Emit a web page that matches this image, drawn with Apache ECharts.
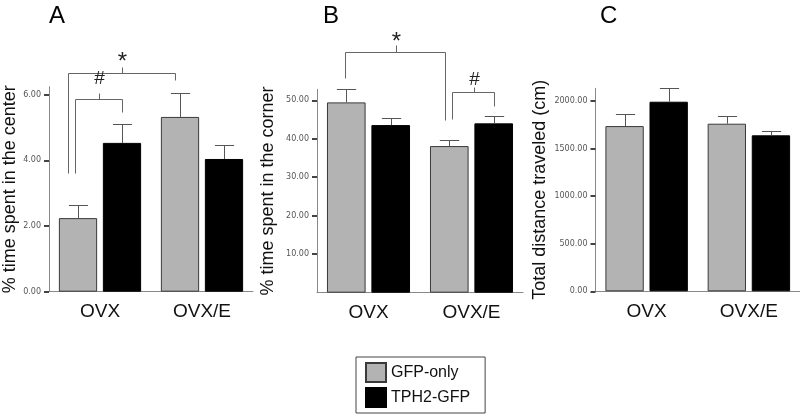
<!DOCTYPE html>
<html>
<head>
<meta charset="utf-8">
<script src="https://cdn.jsdelivr.net/npm/echarts@6/dist/echarts.min.js"></script>
<style>html,body{margin:0;padding:0;background:#fff}#c{width:800px;height:419px}</style>
</head>
<body>
<div id="c"></div>
<script>
// ---- data ----
const categories = ['OVX', 'OVX/E'];
const groupNames = ['GFP-only', 'TPH2-GFP'];

// Panel A: % time spent in the center
const centerGFP = [2.24, 5.32];
const centerGFPSem = [0.40, 0.72];
const centerTPH = [4.53, 4.04];
const centerTPHSem = [0.56, 0.43];
const centerTicks = [0, 2, 4, 6];

// Panel B: % time spent in the corner
const cornerGFP = [49.45, 38.1];
const cornerGFPSem = [3.35, 1.7];
const cornerTPH = [43.55, 44.0];
const cornerTPHSem = [1.95, 1.9];
const cornerTicks = [10, 20, 30, 40, 50];

// Panel C: total distance traveled (cm)
const distGFP = [1736, 1761];
const distGFPSem = [129, 77];
const distTPH = [1992, 1639];
const distTPHSem = [141, 45];
const distTicks = [0, 500, 1000, 1500, 2000];

// significance brackets: [catA, barA, nudgeA, legEndA, catB, barB, nudgeB, legEndB, level, tickTop, symbolValue]
const centerBrackets = [
  [0, 0, -0.25, 3.62, 1, 0, -0.14, 6.43, 6.67, 6.84, 7.13],
  [0, 0, -0.07, 3.62, 0, 1, 0.0, 5.47, 5.86, 6.06, 6.48]
];
const centerBracketSymbols = ['*', '#'];
const cornerBrackets = [
  [0, 0, -0.04, 55.7, 1, 0, -0.10, 45.0, 62.5, 64.4, 66.3],
  [1, 0, 0.075, 45.2, 1, 1, 0.0, 48.5, 52.1, 53.35, 55.25]
];
const cornerBracketSymbols = ['*', '#'];

// ---- layout / style ----
const BAR_W = 0.375, BAR_GAP = 0.15;
const FONT = 'Liberation Sans, Arial, sans-serif';

const panels = [
  {letter: 'A', title: '% time spent in the center', gfp: centerGFP, gfpSem: centerGFPSem, tph: centerTPH, tphSem: centerTPHSem,
   ticks: centerTicks, max: 6.24, grid: {left: 48, top: 86.7, width: 205, height: 205}, nameGap: 30, letterX: 49,
   brackets: centerBrackets, symbols: centerBracketSymbols},
  {letter: 'B', title: '% time spent in the corner', gfp: cornerGFP, gfpSem: cornerGFPSem, tph: cornerTPH, tphSem: cornerTPHSem,
   ticks: cornerTicks, max: 52.85, grid: {left: 317, top: 89.3, width: 206, height: 203.4}, nameGap: 39.5, letterX: 323,
   brackets: cornerBrackets, symbols: cornerBracketSymbols},
  {letter: 'C', title: 'Total distance traveled (cm)', gfp: distGFP, gfpSem: distGFPSem, tph: distTPH, tphSem: distTPHSem,
   ticks: distTicks, max: 2133, grid: {left: 595.5, top: 88.3, width: 206, height: 203}, nameGap: 46.5, letterX: 600,
   brackets: null, symbols: null}
];

function barCenter(api, cat, bi) {
  const c = api.coord([cat, 0])[0];
  const band = api.size([1, 0])[0];
  const bw = band * BAR_W;
  return {x: c + (bi === 0 ? -1 : 1) * bw * (1 + BAR_GAP) / 2, bw: bw};
}

function renderErr(params, api) {
  const cat = api.value(0), bi = api.value(1);
  const b = barCenter(api, cat, bi);
  const y0 = api.coord([cat, api.value(2)])[1];
  const y1 = api.coord([cat, api.value(3)])[1];
  const x = Math.round(b.x) + 0.5;
  const yc = Math.round(y1) + 0.5;
  const cap = b.bw * 0.25;
  return {type: 'group', children: [
    {type: 'line', shape: {x1: x, y1: y0, x2: x, y2: yc}, style: {stroke: '#555', lineWidth: 1}},
    {type: 'line', shape: {x1: x - cap, y1: yc, x2: x + cap, y2: yc}, style: {stroke: '#555', lineWidth: 1}}
  ]};
}

function makeBracketRenderer(symbols) {
  return function (params, api) {
    const a = barCenter(api, api.value(0), api.value(1));
    const b = barCenter(api, api.value(4), api.value(5));
    const xa = Math.round(a.x + api.value(2) * a.bw) + 0.5;
    const xb = Math.round(b.x + api.value(6) * b.bw) + 0.5;
    const Y = v => Math.round(api.coord([0, v])[1]) + 0.5;
    const ya = Y(api.value(3)), yb = Y(api.value(7)), yl = Y(api.value(8)), yt = Y(api.value(9));
    const ys = api.coord([0, api.value(10)])[1];
    const xm = Math.round((xa + xb) / 2) + 0.5;
    const sym = symbols[params.dataIndex];
    const isStar = sym === '*';
    return {type: 'group', children: [
      {type: 'polyline', shape: {points: [[xa, ya], [xa, yl], [xb, yl], [xb, yb]]}, style: {stroke: '#666', lineWidth: 1, fill: null}},
      {type: 'line', shape: {x1: xm, y1: yl, x2: xm, y2: yt}, style: {stroke: '#666', lineWidth: 1}},
      {type: 'text', x: xm, y: ys + (isStar ? 5 : 0), style: {text: sym, align: 'center', verticalAlign: 'middle',
        fontSize: isStar ? 24 : 19, fontFamily: FONT, fill: '#222'}}
    ]};
  };
}

const grids = [], xAxes = [], yAxes = [], series = [], titles = [];
panels.forEach((p, i) => {
  grids.push(Object.assign({containLabel: false}, p.grid));
  titles.push({text: p.letter, left: p.letterX, top: 4, padding: 0,
    textStyle: {fontSize: 24, fontWeight: 'normal', fontFamily: FONT, color: '#000'}});
  xAxes.push({type: 'category', gridIndex: i, data: categories,
    axisLine: {lineStyle: {color: '#888', width: 1}},
    axisTick: {alignWithLabel: true, length: 3, lineStyle: {color: '#666'}},
    axisLabel: {fontSize: 19, fontFamily: FONT, color: '#111', margin: 11},
    splitLine: {show: false}});
  yAxes.push({type: 'value', gridIndex: i, min: 0, max: p.max,
    name: p.title, nameLocation: 'middle', nameGap: p.nameGap,
    nameTextStyle: {fontSize: 18, fontFamily: FONT, color: '#111'},
    axisLine: {show: true, lineStyle: {color: '#888', width: 1}},
    axisTick: {show: true, length: 5, customValues: p.ticks, lineStyle: {color: '#444', width: 2}},
    axisLabel: {customValues: p.ticks, formatter: v => Number(v).toFixed(2), fontSize: 8,
      fontFamily: 'DejaVu Sans, sans-serif', color: '#555', margin: 8},
    splitLine: {show: false}});
  series.push({type: 'bar', name: groupNames[0], xAxisIndex: i, yAxisIndex: i, data: p.gfp,
    barWidth: (BAR_W * 100) + '%', barGap: (BAR_GAP * 100) + '%',
    itemStyle: {color: '#b3b3b3', borderColor: '#3a3a3a', borderWidth: 1}, silent: true});
  series.push({type: 'bar', name: groupNames[1], xAxisIndex: i, yAxisIndex: i, data: p.tph,
    barWidth: (BAR_W * 100) + '%', barGap: (BAR_GAP * 100) + '%',
    itemStyle: {color: '#000', borderColor: '#000', borderWidth: 1}, silent: true});
  const errData = [];
  categories.forEach((c, k) => {
    errData.push([k, 0, p.gfp[k], p.gfp[k] + p.gfpSem[k]]);
    errData.push([k, 1, p.tph[k], p.tph[k] + p.tphSem[k]]);
  });
  series.push({type: 'custom', xAxisIndex: i, yAxisIndex: i, data: errData, renderItem: renderErr,
    encode: {x: 0, y: [2, 3]}, silent: true, z: 3});
  if (p.brackets) {
    series.push({type: 'custom', xAxisIndex: i, yAxisIndex: i, data: p.brackets,
      renderItem: makeBracketRenderer(p.symbols), encode: {x: [0, 4], y: [8]}, clip: false, silent: true, z: 4});
  }
});

const chart = echarts.init(document.getElementById('c'), null, {renderer: 'canvas'});
chart.setOption({
  animation: false,
  backgroundColor: '#fff',
  title: titles,
  grid: grids,
  xAxis: xAxes,
  yAxis: yAxes,
  legend: {data: groupNames, orient: 'vertical', left: 356, top: 357, itemWidth: 20, itemHeight: 19, itemGap: 4,
    padding: [5, 15, 5, 9], borderColor: '#444', borderWidth: 1, selectedMode: false, icon: 'rect',
    textStyle: {fontSize: 16, fontFamily: FONT, color: '#111'}},
  tooltip: {show: false},
  series: series
});
</script>
</body>
</html>
